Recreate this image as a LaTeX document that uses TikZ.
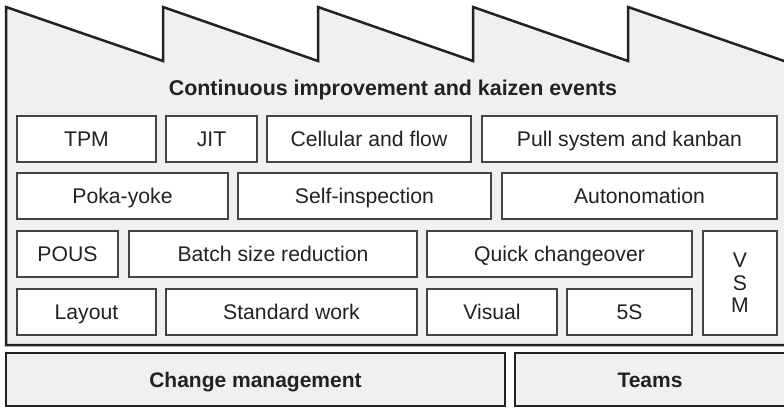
\documentclass[tikz,border=0pt]{standalone}
\usepackage{fontspec}
\setmainfont{Liberation Sans}
\definecolor{linecol}{HTML}{222222}
\definecolor{boxline}{HTML}{444444}
\definecolor{panel}{HTML}{F0F0F0}
\definecolor{txt}{HTML}{222222}
\begin{document}
\begin{tikzpicture}[x=1pt,y=-1pt,
  frame/.style={draw=linecol,line width=2.5pt,fill=panel,line join=miter},
  box/.style={draw=boxline,line width=1.1pt,fill=white,inner sep=0pt,
    text=txt,font=\fontsize{21.2}{22}\selectfont,text height=15.2pt,text depth=0pt},
  tallbox/.style={draw=boxline,line width=1.1pt,fill=white,inner sep=0pt,
    text=txt,font=\fontsize{21.2}{22.5}\selectfont,align=center},
  basebox/.style={draw=linecol,line width=2.5pt,fill=panel,inner sep=0pt,
    text=txt,font=\bfseries\fontsize{21}{24}\selectfont,text height=15pt,text depth=0pt},
  title/.style={text=txt,font=\bfseries\fontsize{21.4}{24}\selectfont,inner sep=0pt}]
\clip (0,0) rectangle (784,407);
\fill[white] (0,0) rectangle (784,407);
% factory outline
\draw[frame] (6,345) -- (6,7) -- (163,61) -- (163,7) -- (318,61) -- (318,7)
  -- (473,61) -- (473,7) -- (628,61) -- (628,7) -- (787,62) -- (787,345) -- cycle;
\node[title] (ttl) at (393,90) {Continuous improvement and kaizen events};
% row 1
\node[box,minimum width=139pt,minimum height=46pt] (tpm) at (86.5,139) {TPM};
\node[box,minimum width=91pt,minimum height=46pt] (jit) at (211.5,139) {JIT};
\node[box,minimum width=204pt,minimum height=46pt] (cell) at (369,139) {Cellular and flow};
\node[box,minimum width=295pt,minimum height=46pt] (pull) at (629.5,139) {Pull system and kanban};
% row 2
\node[box,minimum width=211pt,minimum height=46pt] (poka) at (122.5,196) {Poka-yoke};
\node[box,minimum width=253pt,minimum height=46pt] (self) at (364.5,196) {Self-inspection};
\node[box,minimum width=275pt,minimum height=46pt] (auto) at (639.5,196) {Autonomation};
% row 3
\node[box,minimum width=101pt,minimum height=46pt] (pous) at (67.5,254) {POUS};
\node[box,minimum width=288pt,minimum height=46pt] (batch) at (273,254) {Batch size reduction};
\node[box,minimum width=265pt,minimum height=46pt] (quick) at (559.5,254) {Quick changeover};
\node[tallbox,minimum width=74pt,minimum height=104pt] (vsm) at (740,283) {V\\S\\M};
% row 4
\node[box,minimum width=139pt,minimum height=46pt] (layout) at (86.5,312) {Layout};
\node[box,minimum width=251pt,minimum height=46pt] (std) at (291.5,312) {Standard work};
\node[box,minimum width=130pt,minimum height=46pt] (visual) at (492,312) {Visual};
\node[box,minimum width=125pt,minimum height=46pt] (fives) at (629.5,312) {5S};
% base
\node[basebox,minimum width=499pt,minimum height=53pt] (chg) at (255.5,379.5) {Change management};
\node[basebox,minimum width=270pt,minimum height=53pt] (teams) at (650,379.5) {Teams};
\end{tikzpicture}
\end{document}
